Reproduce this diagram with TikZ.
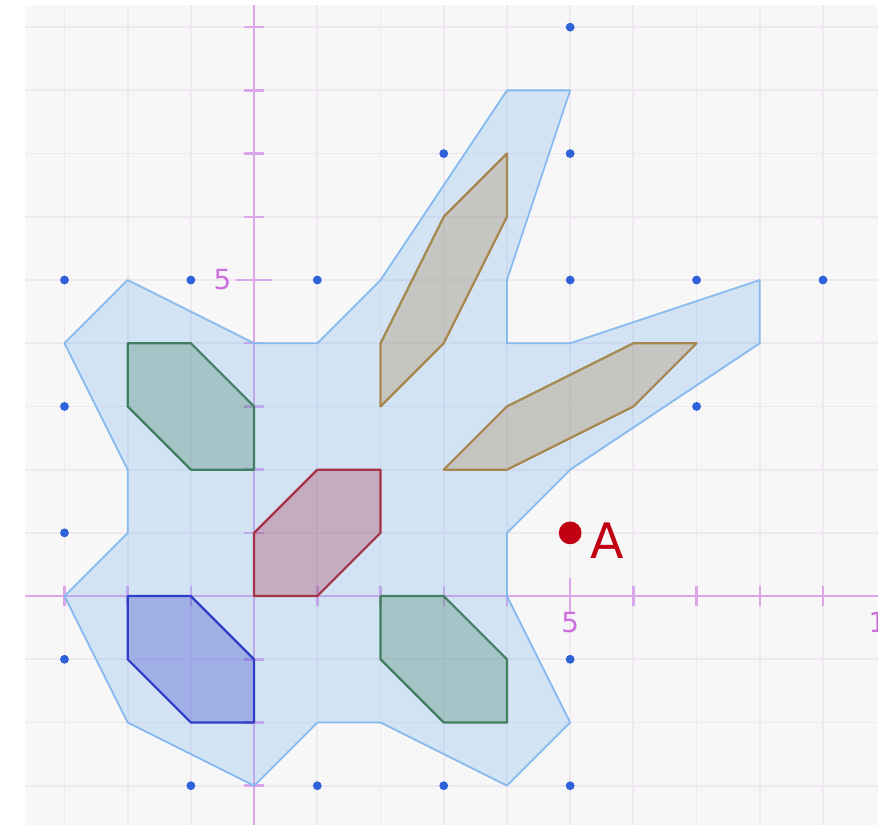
\documentclass[tikz,border=0pt]{standalone}
\usepackage{fontspec}
\setmainfont{DejaVu Sans}
\usetikzlibrary{positioning}
\definecolor{bgrey}{HTML}{F7F7F8}
\definecolor{gridc}{HTML}{EFE8F1}
\definecolor{axisc}{HTML}{DCA6EA}
\definecolor{labc}{HTML}{CC6EDD}
\definecolor{regblue}{HTML}{6FAEEB}
\definecolor{hexgreen}{HTML}{3F7F5F}
\definecolor{hexred}{HTML}{A63248}
\definecolor{hexblue}{HTML}{2E3DC8}
\definecolor{hexolive}{HTML}{A8864F}
\definecolor{ptred}{HTML}{C00012}
\definecolor{dotblue}{HTML}{2F62D8}

\begin{document}
\begin{tikzpicture}[region/.style={draw=regblue!85!white,line width=0.8pt,fill=regblue,fill opacity=0.27,line join=round},hexa/.style={draw=#1,line width=1pt,fill=#1,fill opacity=0.3,line join=round},lab/.style={text=labc,font=\fontsize{12.5}{12.5}\selectfont,inner sep=0pt}]
\useasboundingbox (-4.02,-3.62) rectangle (9.87,9.43);
\clip (-3.62,-3.62) rectangle (9.87,9.35);
\fill[bgrey] (-3.62,-3.62) rectangle (9.87,9.35);
\draw[gridc,line width=0.8pt] (-3.62,-3.62) grid (9.87,9.35);
\draw[axisc,line width=1.1pt] (-3.62,0) -- (9.87,0);
\draw[axisc,line width=1.1pt] (0,-3.62) -- (0,9.35);
\foreach \k in {-3,...,9} {
  \ifnum\k=0\else
    \ifnum\k=5
      \draw[axisc,line width=1.1pt] (\k,-0.28) -- (\k,0.28);
      \draw[axisc,line width=1.1pt] (-0.28,\k) -- (0.28,\k);
    \else
      \draw[axisc,line width=1.1pt] (\k,-0.16) -- (\k,0.16);
      \draw[axisc,line width=1.1pt] (-0.16,\k) -- (0.16,\k);
    \fi
  \fi
}
\node[lab] (xfive) at (5,-0.42) {5};
\node[lab] (yfive) at (-0.5,5) {5};
\node[lab] (xten) at (10,-0.42) {10};
\foreach \p in {(5,9),(3,7),(5,7),(-3,5),(-1,5),(1,5),(5,5),(7,5),(9,5),(-3,3),(7,3),(-3,1),(-3,-1),(5,-1),(-1,-3),(1,-3),(3,-3),(5,-3)}
  \fill[dotblue] \p circle (0.07);
\draw[region] (-3,0) -- (-2,1) -- (-2,2) -- (-3,4) -- (-2,5) -- (0,4) -- (1,4) -- (2,5) -- (4,8) -- (5,8) -- (4,5) -- (4,4) -- (5,4) -- (8,5) -- (8,4) -- (5,2) -- (4,1) -- (4,0) -- (5,-2) -- (4,-3) -- (2,-2) -- (1,-2) -- (0,-3) -- (-2,-2) -- cycle;
\draw[hexa=hexgreen] (-2,4) -- (-1,4) -- (0,3) -- (0,2) -- (-1,2) -- (-2,3) -- cycle;
\draw[hexa=hexgreen] (2,0) -- (3,0) -- (4,-1) -- (4,-2) -- (3,-2) -- (2,-1) -- cycle;
\draw[hexa=hexred] (0,1) -- (1,2) -- (2,2) -- (2,1) -- (1,0) -- (0,0) -- cycle;
\draw[hexa=hexblue] (-2,0) -- (-1,0) -- (0,-1) -- (0,-2) -- (-1,-2) -- (-2,-1) -- cycle;
\draw[hexa=hexolive] (2,4) -- (3,6) -- (4,7) -- (4,6) -- (3,4) -- (2,3) -- cycle;
\draw[hexa=hexolive] (3,2) -- (4,3) -- (6,4) -- (7,4) -- (6,3) -- (4,2) -- cycle;
\coordinate (A) at (5,1);
\fill[ptred] (A) circle (0.18);
\node[text=ptred,font=\fontsize{22}{22}\selectfont,inner sep=0pt] (labA) at (5.58,0.88) {A};
\end{tikzpicture}
\end{document}
